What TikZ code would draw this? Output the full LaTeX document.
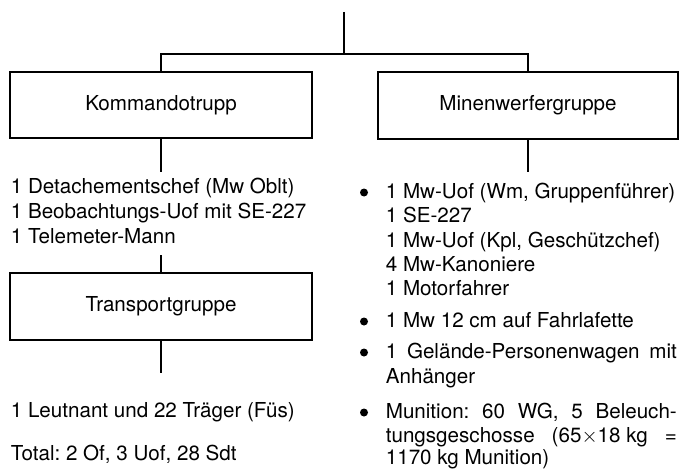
\documentclass[tikz,border=0pt]{standalone}
\usepackage{fontspec}
\setmainfont{TeX Gyre Heros}
\usetikzlibrary{calc}
\usetikzlibrary{positioning}
\frenchspacing

\begin{document}
\begin{tikzpicture}[x=1pt, y=-1pt, line width=1.7pt]

    \def\fs{\fontsize{20.6}{24.5}\selectfont}

    % boxes, list lines and bullets
    \tikzset{
        groupbox/.style={draw, inner sep=0pt, outer sep=0pt, font=\fs},
        item/.style={anchor=base west, inner sep=0pt, font=\fs},
        dot/.style={circle, fill, inner sep=0pt, minimum size=8pt}
    }

    \useasboundingbox (0,0) rectangle (679,468);

    % Scope for the group boxes
    \begin{scope}
        \coordinate (top) at (344,12);
        \coordinate (fork) at (344,54);

        \node[groupbox, minimum width=302pt, minimum height=66pt] (komm)
        at (161,105) {Kommandotrupp};
        \node[groupbox, minimum width=300pt, minimum height=67pt] (minw)
        at (528,105.5) {Minenwerfergruppe};
        \node[groupbox, minimum width=302pt, minimum height=67pt] (trans)
        at (161,306.5) {Transportgruppe};
    \end{scope}

    % left column
    \node[item] (k1) at (10,193) {1 Detachementschef (Mw Oblt)};
    \node[item] (k2) at (10,218) {1 Beobachtungs-Uof mit SE-227};
    \node[item] (k3) at (10,243) {1 Telemeter-Mann};
    \node[item] (leut) at (10,417) {1 Leutnant und 22 Träger (Füs)};
    \node[item] (total) at (10,460) {Total: 2 Of, 3 Uof, 28 Sdt};

    % right column
    \node[dot] (b1) at (364,192.5) {};
    \node[item] (m1) at (385,198) {1 Mw-Uof (Wm, Gruppenführer)};
    \node[item] (m2) at (385,222) {1 SE-227};
    \node[item] (m3) at (385,247) {1 Mw-Uof (Kpl, Geschützchef)};
    \node[item] (m4) at (385,271) {4 Mw-Kanoniere};
    \node[item] (m5) at (385,295) {1 Motorfahrer};
    \node[dot] (b2) at (364,321.5) {};
    \node[item] (m6) at (385,327) {1 Mw 12 cm auf Fahrlafette};
    \node[dot] (b3) at (364,352.5) {};
    \node[item] (m7) at (385,358)
    {\makebox[291pt][s]{1 Gelände-Personenwagen mit}};
    \node[item] (m8) at (385,383) {Anhänger};
    \node[dot] (b4) at (364,412.5) {};
    \node[item] (m9) at (385,418)
    {\makebox[291pt][s]{\frenchspacing Munition: 60 WG, 5 Beleuch-}};
    \node[item] (m10) at (385,442)
    {\makebox[291pt][s]{tungsgeschosse (65$\times$18\kern.28em kg =}};
    \node[item] (m11) at (385,464) {1170 kg Munition)};

    % line ends
    \coordinate (kend) at (161,172);
    \coordinate (mend) at (528,172);
    \coordinate (tstart) at (161,255);
    \coordinate (tend) at (161,373);

    \begin{scope}[line width=1.7pt]
        \draw (top) -- (fork);
        \draw (komm.north) |- (fork) -| (minw.north);
        \draw (komm) -- (kend);
        \draw (minw) -- (mend);
        \draw (tstart) -- (trans);
        \draw (trans) -- (tend);
    \end{scope}

\end{tikzpicture}
\end{document}
